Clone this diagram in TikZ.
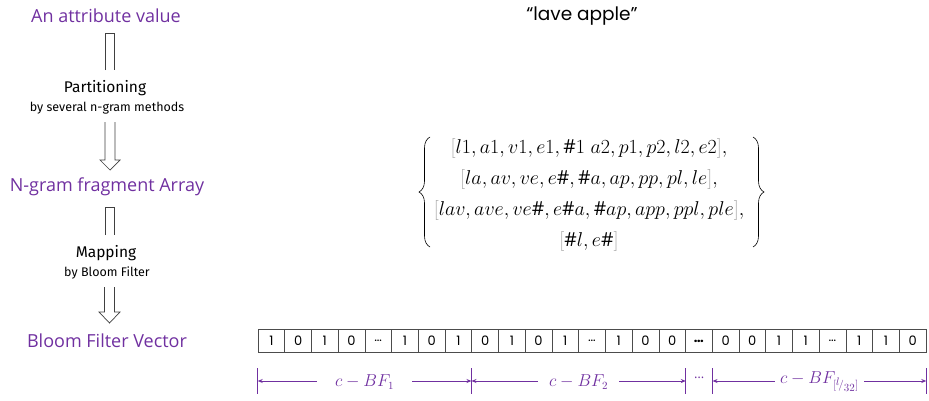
\documentclass[tikz,border=0pt]{standalone}
\usepackage{fontspec}
\setmainfont{Open Sans}
\newfontfamily\geo{Poppins}
\newfontfamily\hand{Fira Sans}
\usetikzlibrary{decorations.pathreplacing,arrows.meta,calc}
\definecolor{vio}{RGB}{112,48,160}
\newcommand\gb[1]{{\color{black!35}#1}}
\newcommand\cd{\ldots}
\newcommand\bd{\textbf{\ldots}}
\begin{document}
\begin{tikzpicture}[x=1pt,y=-1pt,
  lab/.style={text=vio,font=\fontsize{18}{20}\selectfont,inner sep=0pt},
  step1/.style={font=\hand\fontsize{15.5}{17}\selectfont,inner sep=0pt},
  step2/.style={font=\hand\fontsize{12.5}{14}\selectfont,inner sep=0pt},
  blk/.style={draw=black!75,line width=0.7pt,fill=white},
  cell/.style={draw=black!70,line width=0.6pt,minimum width=26.72pt,minimum height=23pt,inner sep=0pt,font=\geo\fontsize{13}{15}\selectfont},
  dim/.style={draw=vio,line width=1pt,-{Stealth[length=5pt,width=4pt]}},
  bar/.style={draw=vio,line width=1.2pt},
  dlab/.style={text=vio,font=\fontsize{16}{18}\selectfont,inner ysep=0pt}]
\useasboundingbox (0,0) rectangle (929,400);
% left column
\node[lab] (attr) at (106,16) {An attribute value};
\node[step1] (part) at (105,88) {Partitioning};
\node[step2] (part2) at (107,108) {by several n-gram methods};
\node[lab] (ngram) at (107,187) {N-gram fragment Array};
\node[step1] (map) at (106,253) {Mapping};
\node[step2] (map2) at (107,273) {by Bloom Filter};
\node[lab] (bfv) at (107,341) {Bloom Filter Vector};
% block arrows
\draw[blk] (105.5,70) -- (105.5,33) -- (114.5,33) -- (114.5,70);
\draw[blk] (105,122) -- (105,160) -- (100,160) -- (110,170) -- (120,160) -- (115,160) -- (115,122);
\draw[blk] (105,235) -- (105,207) -- (114.5,207) -- (114.5,235);
\draw[blk] (104.5,287) -- (104.5,312) -- (99,312) -- (109.5,323) -- (120,312) -- (114.5,312) -- (114.5,287);
% right top
\node[font=\geo\fontsize{18.5}{20}\selectfont,inner sep=0pt] (quote) at (582,16) {“lave apple”};
\node[inner sep=0pt] (frag) at (589,194) {\scalebox{0.965}{\fontsize{20}{32}\selectfont
\begin{tabular}{@{}c@{}}
$\gb{[}l1,a1,v1,e1,\#1\;a2,p1,p2,l2,e2\gb{]},$\\
$\gb{[}la,av,ve,e\#,\#a,ap,pp,pl,le\gb{]},$\\
$\gb{[}lav,ave,ve\#,e\#a,\#ap,app,ppl,ple\gb{]},$\\
$\gb{[}\#l,e\#\gb{]}$
\end{tabular}}};
\draw[line width=0.6pt,decorate,decoration={brace,amplitude=11pt}] (430,247) -- (430,137);
\draw[line width=0.6pt,decorate,decoration={brace,amplitude=11pt}] (753,137) -- (753,247);
% bit array
\foreach \v [count=\i] in {1,0,1,0,\cd,1,0,1,0,1,0,1,\cd,1,0,0,\bd,0,0,1,1,\cd,1,1,0}{
  \node[cell] (c\i) at ({258+(\i-0.5)*26.72},341) {\v};
}
% dimension lines
\coordinate (b0) at (c1.west |- 0,381);
\coordinate (b1) at (c9.west |- 0,381);
\coordinate (b2) at (c16.east |- 0,381);
\coordinate (b3) at (c17.east |- 0,381);
\coordinate (b4) at (c25.east |- 0,381);
\foreach \b in {b0,b1,b2,b3,b4}{\draw[bar] ($(\b)+(0,-13)$) -- ($(\b)+(0,13)$);}
\node[dlab,inner xsep=18pt] (d1) at ($(b0)!0.5!(b1)+(0,1)$) {$c-BF_1$};
\node[dlab,inner xsep=11pt] (d2) at ($(b1)!0.5!(b2)+(0,1)$) {$c-BF_2$};
\node[dlab,inner xsep=5pt] (d3) at ($(b3)!0.5!(b4)+(0,1)$) {$c-BF_{[{}^{\scriptstyle l}\!/_{\scriptstyle 32}]}$};
\node[text=vio,inner sep=0pt,font=\fontsize{13}{14}\selectfont] (dd) at ($(b2)!0.5!(b3)+(0,-3)$) {\ldots};
\draw[dim] (d1.west |- b0) -- (b0);
\draw[dim] (d1.east |- b0) -- (b1);
\draw[dim] (d2.west |- b0) -- (b1);
\draw[dim] (d2.east |- b0) -- (b2);
\draw[dim] (d3.west |- b0) -- (b3);
\draw[dim] (d3.east |- b0) -- (b4);
\end{tikzpicture}
\end{document}
